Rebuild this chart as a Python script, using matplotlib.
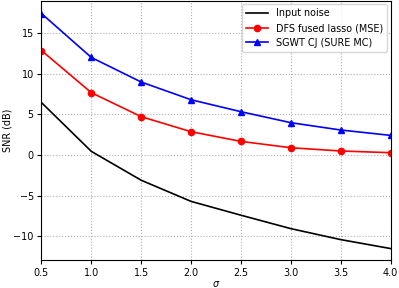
import matplotlib
matplotlib.use("Agg")
import matplotlib.pyplot as plt

sigma = [0.5, 1.0, 1.5, 2.0, 2.5, 3.0, 3.5, 4.0]
input_noise = [6.45, 0.45, -3.1, -5.7, -7.4, -9.05, -10.4, -11.5]
dfs_fused = [12.85, 7.67, 4.72, 2.87, 1.68, 0.9, 0.5, 0.29]
sgwt_cj = [17.4, 12.0, 8.98, 6.8, 5.33, 3.98, 3.08, 2.42]

fs = 6.9
fig = plt.figure(figsize=(3.99, 2.88), dpi=100)
ax = fig.add_axes([0.104, 0.096, 0.875, 0.902])

ax.plot(sigma, input_noise, color="black", lw=1.2, label="Input noise")
ax.plot(sigma, dfs_fused, color="red", lw=1.2, marker="o", ms=4.5, label="DFS fused lasso (MSE)")
ax.plot(sigma, sgwt_cj, color="blue", lw=1.2, marker="^", ms=5, label="SGWT CJ (SURE MC)")

ax.set_xlim(0.5, 4.0)
ax.set_ylim(-12.95, 19.0)
ax.set_xticks([0.5, 1.0, 1.5, 2.0, 2.5, 3.0, 3.5, 4.0])
ax.set_yticks([-10, -5, 0, 5, 10, 15])
ax.grid(True, linestyle=":", color="#b0b0b0", lw=0.8)
ax.tick_params(labelsize=fs, length=3, pad=2.5)
ax.set_xlabel(r"$\sigma$", fontsize=fs, labelpad=1)
ax.set_ylabel("SNR (dB)", fontsize=fs, labelpad=1)
ax.legend(loc="upper right", fontsize=fs, framealpha=0.8, borderaxespad=0.4,
          handlelength=2.3)

fig.savefig("out.png", dpi=100)
